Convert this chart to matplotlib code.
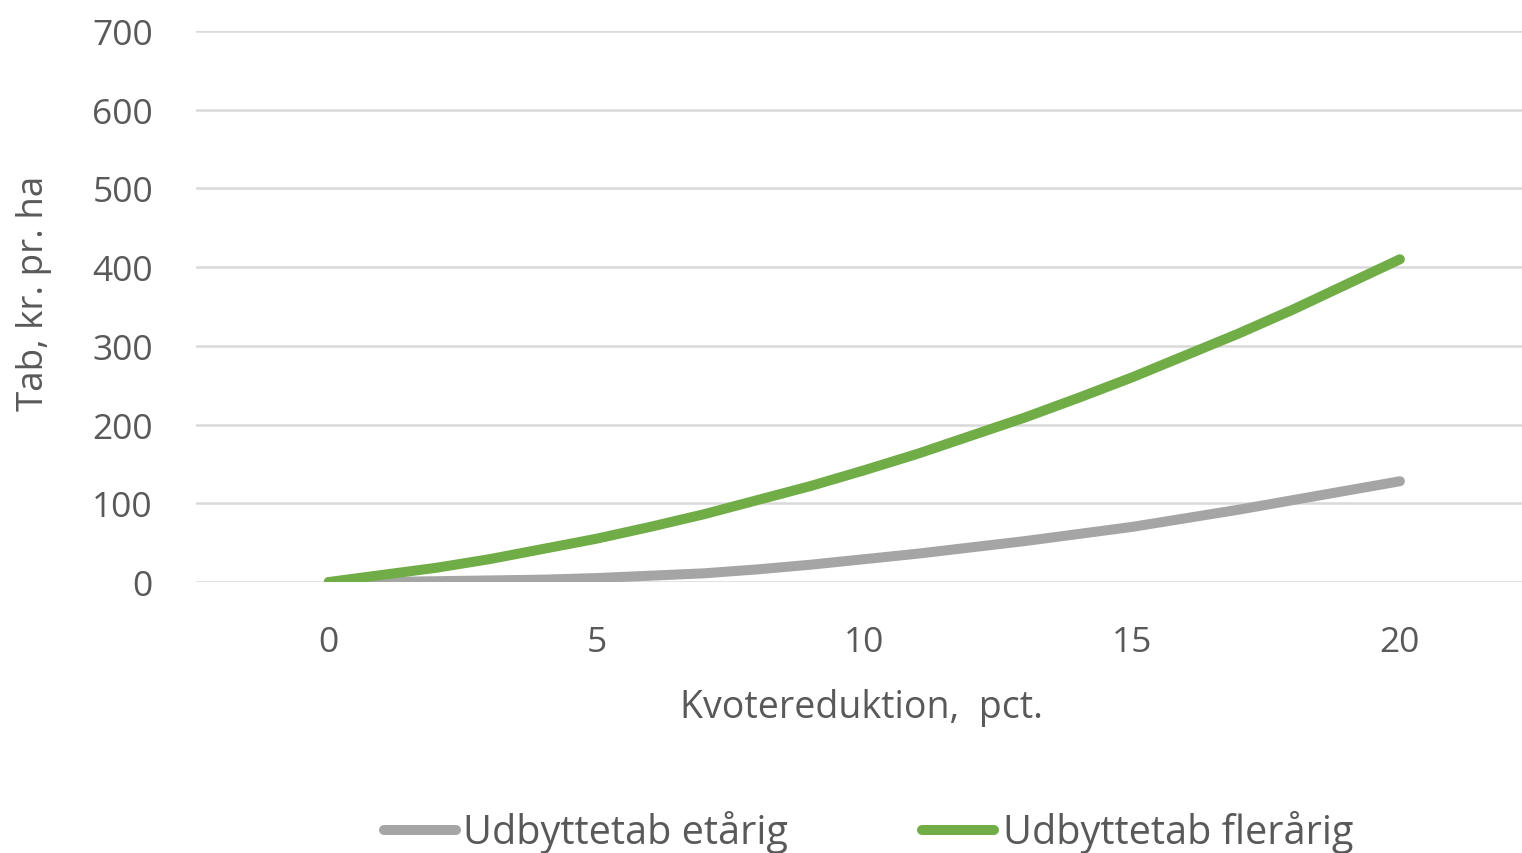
import numpy as np
import matplotlib
matplotlib.use("Agg")
import matplotlib.pyplot as plt
from matplotlib.lines import Line2D

# values
reduktion = list(range(0, 21))
etaarig = [0, 0, 1, 2, 3, 5, 8, 11, 16, 22, 29, 36, 44, 52, 61, 70, 81, 92, 104, 116, 128]
flaraarig = [0, 9, 18, 29, 42, 55, 70, 86, 104, 122, 142, 163, 186, 209, 234, 260, 288, 316, 346, 378, 410]
yticks = [0, 100, 200, 300, 400, 500, 600, 700]
xticks = [0, 5, 10, 15, 20]
series_names = ["Udbyttetab etårig", "Udbyttetab flerårig"]

grey = "#A5A5A5"
green = "#70AD47"
txt = "#595959"

plt.rcParams['font.family'] = ['Open Sans', 'DejaVu Sans']

fig = plt.figure(figsize=(15.22, 8.54), dpi=100)
ax = fig.add_axes([196 / 1522, 1 - 583 / 854, 1 - 196 / 1522, (583 - 32) / 854])

ax.plot(reduktion, etaarig, color=grey, lw=7.2, solid_capstyle='round', solid_joinstyle='round', zorder=3)
ax.plot(reduktion, flaraarig, color=green, lw=7.2, solid_capstyle='round', solid_joinstyle='round', zorder=4)

ax.set_xlim(-2.48, 22.28)
ax.set_ylim(0, 700)
ax.set_yticks(yticks)
ax.set_xticks(xticks)
ax.grid(axis='y', color='#D9D9D9', lw=1.8)
ax.set_axisbelow(True)
for s in ax.spines.values():
    s.set_visible(False)
ax.tick_params(length=0, labelsize=25.5, labelcolor=txt)
ax.tick_params(axis='y', pad=31)
ax.tick_params(axis='x', pad=31)

fig.text(862 / 1522, 1 - 708 / 854, "Kvotereduktion,  pct.", ha='center', va='center',
         fontsize=27, color=txt)
fig.text(34 / 1522, 1 - 293 / 854, "Tab, kr. pr. ha", ha='center', va='center',
         rotation=90, fontsize=26.5, color=txt)

# legend
ly = 1 - 831 / 854
for (x0, x1, tx), col, name in zip([(384, 456, 463), (922, 994, 1003)], [grey, green], series_names):
    fig.add_artist(Line2D([x0 / 1522, x1 / 1522], [ly, ly], color=col, lw=7.2,
                          solid_capstyle='round', transform=fig.transFigure))
    fig.text(tx / 1522, ly - 0.002, name, ha='left', va='center', fontsize=28.5, color=txt)

fig.savefig("out.png", dpi=100)
